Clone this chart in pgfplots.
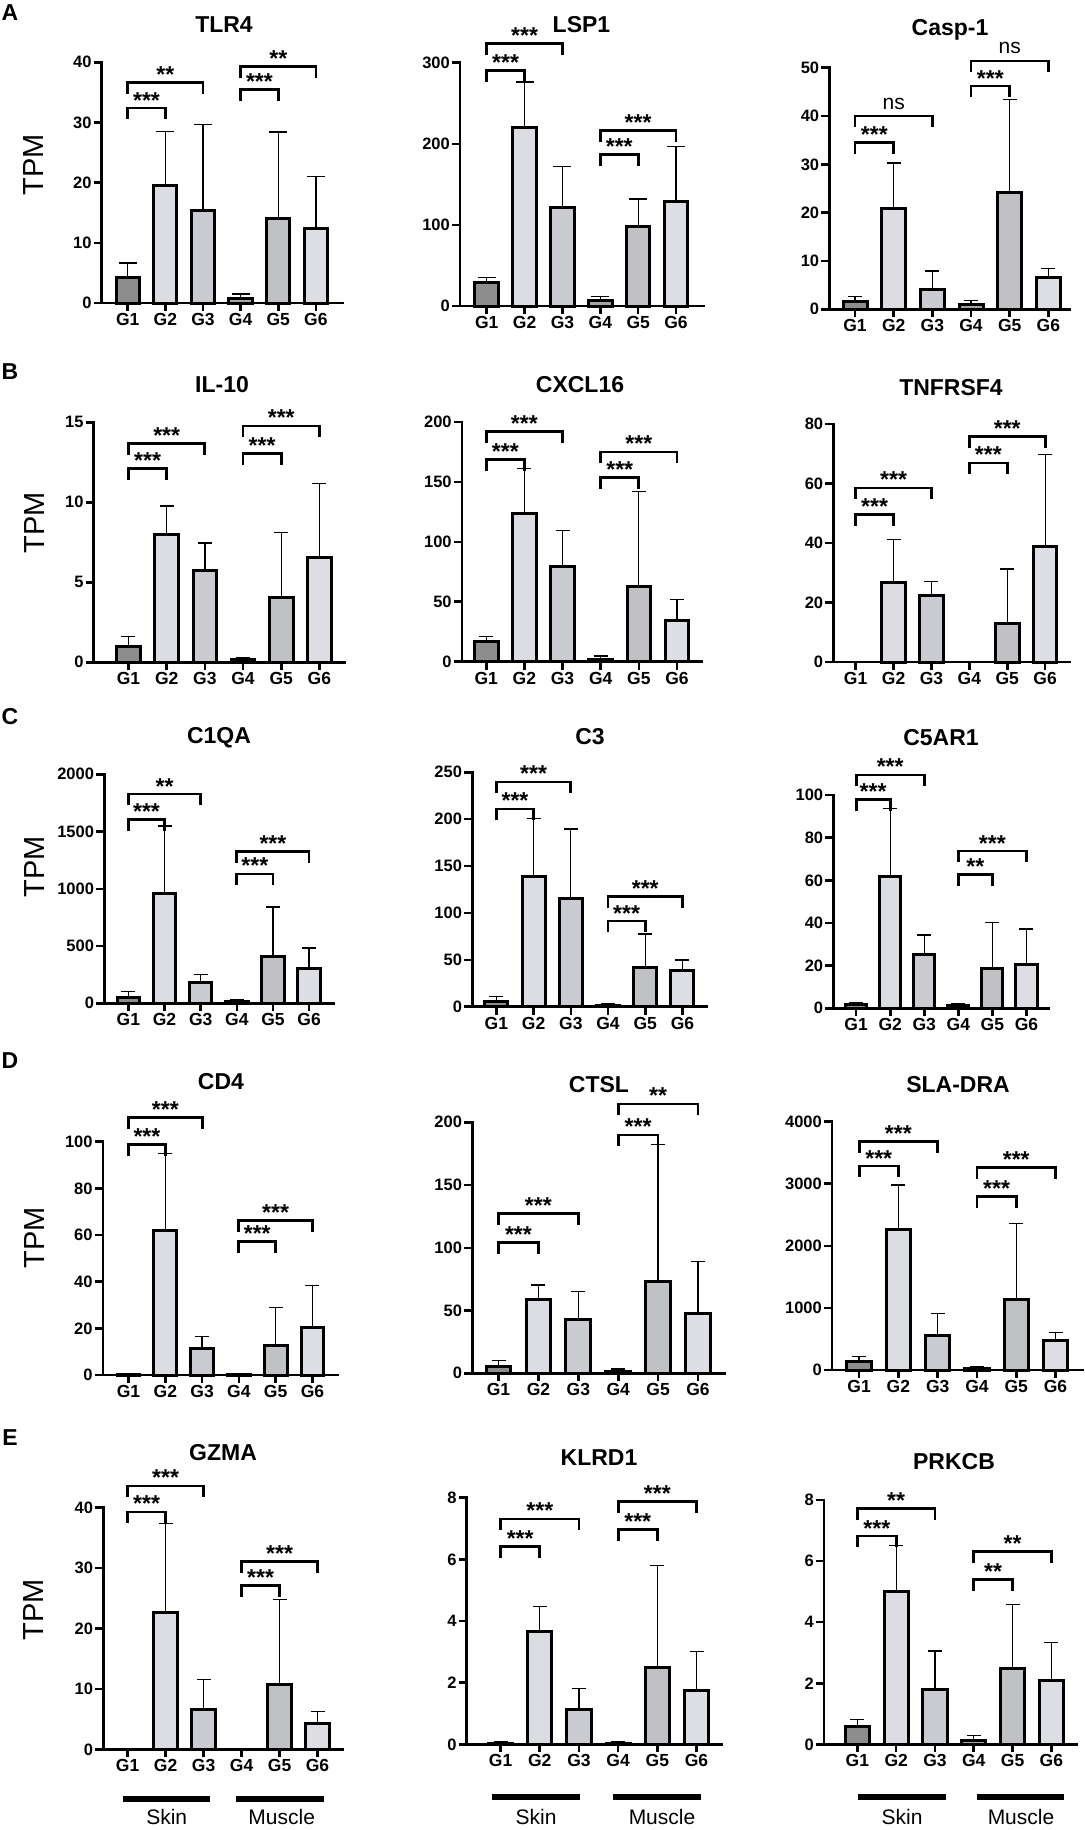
\documentclass[border=0pt]{standalone}
\usepackage{fontspec}
\setmainfont{Liberation Sans}
\newfontfamily\plainfont{Liberation Sans}
\usepackage{pgfplots}
\pgfplotsset{compat=1.18}
\definecolor{g1}{HTML}{8D8D8D}
\definecolor{g2}{HTML}{DBDDE2}
\definecolor{g3}{HTML}{C9CBD0}
\definecolor{g4}{HTML}{A5A5A5}
\definecolor{g5}{HTML}{BFC1C5}
\definecolor{g6}{HTML}{DCDEE3}
\pgfplotsset{bp/.style={
  scale only axis, anchor=south west,
  axis lines=left, axis line style={-, line width=2.6pt, line cap=rect},
  ymin=0, enlargelimits=false, clip=false,
  xtick={1,2,3,4,5,6}, xticklabels={G1,G2,G3,G4,G5,G6},
  tick align=outside, major tick length=8pt,
  tick style={black, line width=2.6pt},
  ybar, bar width=0.62, bar shift=0pt,
  /pgf/number format/assume math mode=true,
  /pgf/number format/1000 sep={},
  yticklabel style={font=\fontsize{16.5}{16.5}\selectfont\bfseries, inner sep=2pt},
  xticklabel style={font=\fontsize{17.5}{17.5}\selectfont\bfseries, inner sep=2pt},
  error bars/y dir=plus, error bars/y explicit,
  error bars/error bar style={line width=1.3pt, black},
  error bars/error mark options={rotate=90, mark size=7pt, line width=1.3pt, black},
},
capA/.style={error bars/error mark options={rotate=90, mark size=9pt, line width=1.3pt, black}}}
\tikzset{
  brk/.style={line width=2.8pt, line cap=rect, line join=miter},
  stars/.style={anchor=base, yshift=0pt, inner sep=0pt, font=\fontsize{23}{23}\selectfont\bfseries},
  nsl/.style={anchor=base, yshift=7pt, inner sep=0pt, font=\fontsize{21}{21}\selectfont},
  ttl/.style={font=\fontsize{23}{23}\selectfont\bfseries, inner sep=0pt},
  lett/.style={font=\fontsize{23}{23}\selectfont\bfseries, inner sep=0pt},
  tpm/.style={rotate=90, font=\plainfont\fontsize{29}{29}\selectfont, inner sep=0pt},
  grp/.style={font=\plainfont\fontsize{21}{21}\selectfont, inner sep=0pt},
}
% one bar: group index, mean, upper error length
\newcommand\B[3]{\addplot[draw=black, line width=3pt, fill=g#1] coordinates {(#1,#2) +- (0,#3)};}
% bracket: x1, x2, label x, y, label
\newcommand\br[5]{%
  \draw[brk] ([yshift=-10pt]axis cs:#1,#4) -- (axis cs:#1,#4) -- (axis cs:#2,#4) -- ([yshift=-10pt]axis cs:#2,#4);
  \node[stars] at (axis cs:#3,#4) {#5};}
\newcommand\brns[4]{%
  \draw[brk] ([yshift=-10pt]axis cs:#1,#4) -- (axis cs:#1,#4) -- (axis cs:#2,#4) -- ([yshift=-10pt]axis cs:#2,#4);
  \node[nsl] at (axis cs:#3,#4) {ns};}
\begin{document}
\begin{tikzpicture}
\useasboundingbox (0pt,0pt) rectangle (1084pt,-1830pt);
% panel letters, titles, TPM labels
\node[lett] at (10pt,-12.5pt) {A};
\node[lett] at (10pt,-372pt) {B};
\node[lett] at (10pt,-717pt) {C};
\node[lett] at (10pt,-1061pt) {D};
\node[lett] at (10pt,-1438pt) {E};
\node[tpm] at (34pt,-165pt) {TPM};
\node[tpm] at (35pt,-523pt) {TPM};
\node[tpm] at (35pt,-867pt) {TPM};
\node[tpm] at (35pt,-1238pt) {TPM};
\node[tpm] at (34pt,-1610pt) {TPM};
\node[ttl] at (224pt,-25pt) {TLR4};
\node[ttl] at (581.5pt,-25pt) {LSP1};
\node[ttl] at (950pt,-30pt) {Casp-1};
\node[ttl] at (222pt,-385pt) {IL-10};
\node[ttl] at (580pt,-385pt) {CXCL16};
\node[ttl] at (951pt,-388pt) {TNFRSF4};
\node[ttl] at (219pt,-738pt) {C1QA};
\node[ttl] at (590pt,-737pt) {C3};
\node[ttl] at (941pt,-738pt) {C5AR1};
\node[ttl] at (221pt,-1082pt) {CD4};
\node[ttl] at (599pt,-1085pt) {CTSL};
\node[ttl] at (958pt,-1085pt) {SLA-DRA};
\node[ttl] at (223pt,-1453pt) {GZMA};
\node[ttl] at (599pt,-1458pt) {KLRD1};
\node[ttl] at (954pt,-1462pt) {PRKCB};
% Skin / Muscle group bars
\draw[line width=6pt] (122.7pt,-1799pt) -- (210pt,-1799pt);
\draw[line width=6pt] (236pt,-1799pt) -- (324pt,-1799pt);
\draw[line width=6pt] (492pt,-1797pt) -- (580.4pt,-1797pt);
\draw[line width=6pt] (613pt,-1797pt) -- (701pt,-1797pt);
\draw[line width=6pt] (857.5pt,-1797pt) -- (946pt,-1797pt);
\draw[line width=6pt] (977pt,-1797pt) -- (1064pt,-1797pt);
\node[grp] at (166.7pt,-1817pt) {Skin};
\node[grp] at (281.7pt,-1817pt) {Muscle};
\node[grp] at (536pt,-1817pt) {Skin};
\node[grp] at (662pt,-1817pt) {Muscle};
\node[grp] at (902pt,-1817pt) {Skin};
\node[grp] at (1021pt,-1817pt) {Muscle};

% ---------- Row A ----------
\begin{axis}[bp, capA, at={(101.7pt,-303pt)}, width=241.3pt, height=240.7pt, xmin=0.31, xmax=6.72, ymax=40, ytick={0,10,20,30,40}]
\B{1}{4.26}{2.38}\B{2}{19.6}{8.9}\B{3}{15.3}{14.4}\B{4}{0.72}{0.78}\B{5}{14.0}{14.4}\B{6}{12.3}{8.7}
\br{1}{2}{1.5}{32.4}{***}\br{1}{3}{2}{36.6}{**}\br{4}{5}{4.5}{35.5}{***}\br{4}{6}{5}{39.3}{**}
\end{axis}
\begin{axis}[bp, capA, at={(460pt,-306pt)}, width=243.3pt, height=243.3pt, xmin=0.295, xmax=6.72, ymax=300, ytick={0,100,200,300}]
\B{1}{29.2}{5.7}\B{2}{220.3}{55.9}\B{3}{121.7}{50.1}\B{4}{7.4}{4.1}\B{5}{98.6}{33.3}\B{6}{129.1}{67.4}
\br{1}{2}{1.5}{290.2}{***}\br{1}{3}{2}{323.9}{***}\br{4}{5}{4.5}{187}{***}\br{4}{6}{5}{216.2}{***}
\end{axis}
\begin{axis}[bp, at={(829.3pt,-309.3pt)}, width=240.7pt, height=241.6pt, xmin=0.335, xmax=6.56, ymax=50, ytick={0,10,20,30,40,50}]
\B{1}{1.66}{0.94}\B{2}{20.9}{9.4}\B{3}{4.0}{3.9}\B{4}{0.97}{0.83}\B{5}{24.1}{19.3}\B{6}{6.55}{1.85}
\br{1}{2}{1.5}{34.5}{***}\brns{1}{3}{2}{40.0}\br{4}{5}{4.5}{46.2}{***}\brns{4}{6}{5}{51.4}
\end{axis}
% ---------- Row B ----------
\begin{axis}[bp, at={(93.75pt,-662.3pt)}, width=251.25pt, height=240pt, xmin=0.09, xmax=6.67, ymax=15, ytick={0,5,10,15}]
\B{1}{0.98}{0.62}\B{2}{8.0}{1.77}\B{3}{5.73}{1.73}\B{4}{0.19}{0.10}\B{5}{4.06}{4.04}\B{6}{6.56}{4.63}
\br{1}{2}{1.5}{12.1}{***}\br{1}{3}{2}{13.7}{***}\br{4}{5}{4.5}{13.06}{***}\br{4}{6}{5}{14.77}{***}
\end{axis}
\begin{axis}[bp, at={(461.8pt,-661.7pt)}, width=239.6pt, height=239.7pt, xmin=0.36, xmax=6.64, ymax=200, ytick={0,50,100,150,200}]
\B{1}{16.7}{4.2}\B{2}{124}{37}\B{3}{79.4}{29.8}\B{4}{2.2}{2.5}\B{5}{62.7}{79.3}\B{6}{34}{18}
\br{1}{2}{1.5}{169}{***}\br{1}{3}{2}{192}{***}\br{4}{5}{4.5}{154}{***}\br{4}{6}{5}{175}{***}
\end{axis}
\begin{axis}[bp, at={(833.3pt,-662pt)}, width=236.1pt, height=238pt, xmin=0.41, xmax=6.64, ymax=80, ytick={0,20,40,60,80}]
\B{2}{26.6}{14.5}\B{3}{22.3}{4.8}\B{5}{12.8}{18.5}\B{6}{38.7}{31.0}
\br{1}{2}{1.5}{49.7}{***}\br{1}{3}{2}{58.5}{***}\br{4}{5}{4.5}{66.9}{***}\br{4}{6}{5}{75.9}{***}
\end{axis}
% ---------- Row C ----------
\begin{axis}[bp, at={(104.2pt,-1003.3pt)}, width=229.1pt, height=229pt, xmin=0.33, xmax=6.67, ymax=2000, ytick={0,500,1000,1500,2000}]
\B{1}{49}{53}\B{2}{961}{588}\B{3}{186}{67}\B{4}{20}{9}\B{5}{408}{433}\B{6}{306}{177}
\br{1}{2}{1.5}{1607}{***}\br{1}{3}{2}{1828}{**}\br{4}{5}{4.5}{1130}{***}\br{4}{6}{5}{1328}{***}
\end{axis}
\begin{axis}[bp, at={(472.2pt,-1006.7pt)}, width=234.8pt, height=234.4pt, xmin=0.35, xmax=6.66, ymax=250, ytick={0,50,100,150,200,250}]
\B{1}{6}{4.7}\B{2}{138.7}{61.9}\B{3}{114.9}{74.6}\B{4}{1}{1.8}\B{5}{42.3}{35.2}\B{6}{38.8}{11}
\br{1}{2}{1.5}{210.9}{***}\br{1}{3}{2}{239.7}{***}\br{4}{5}{4.5}{91.4}{***}\br{4}{6}{5}{117.7}{***}
\end{axis}
\begin{axis}[bp, at={(833.3pt,-1008.3pt)}, width=215.3pt, height=213.3pt, xmin=0.33, xmax=6.65, ymax=100, ytick={0,20,40,60,80,100}]
\B{1}{2.0}{0.7}\B{2}{62}{31.75}\B{3}{25.3}{9.1}\B{4}{1.1}{1.1}\B{5}{18.6}{21.7}\B{6}{20.6}{16.6}
\br{1}{2}{1.5}{98}{***}\br{1}{3}{2}{109.4}{***}\br{4}{5}{4.5}{62.8}{**}\br{4}{6}{5}{73.75}{***}
\end{axis}
% ---------- Row D ----------
\begin{axis}[bp, at={(102.8pt,-1375pt)}, width=235.4pt, height=233.3pt, xmin=0.30, xmax=6.70, ymax=100, ytick={0,20,40,60,80,100}]
\B{1}{0.3}{0.2}\B{2}{61.9}{33.1}\B{3}{11.3}{5.1}\B{4}{0.2}{0.2}\B{5}{12.7}{16.3}\B{6}{20.4}{17.9}
\br{1}{2}{1.5}{98.9}{***}\br{1}{3}{2}{110.3}{***}\br{4}{5}{4.5}{57.1}{***}\br{4}{6}{5}{66.4}{***}
\end{axis}
\begin{axis}[bp, at={(472.2pt,-1373.3pt)}, width=252.1pt, height=251pt, xmin=0.34, xmax=6.66, ymax=200, ytick={0,50,100,150,200}]
\B{1}{5.8}{4.3}\B{2}{59}{11.4}\B{3}{42.5}{22.6}\B{4}{1.6}{1.9}\B{5}{73}{109.5}\B{6}{47.8}{41.2}
\br{1}{2}{1.5}{104.4}{***}\br{1}{3}{2}{127.5}{***}\br{4}{5}{4.5}{189.9}{***}\br{4}{6}{5}{214.6}{**}
\end{axis}
\begin{axis}[bp, at={(832pt,-1370pt)}, width=251pt, height=248.3pt, xmin=0.31, xmax=6.70, ymax=4000, ytick={0,1000,2000,3000,4000}]
\B{1}{134}{81}\B{2}{2271}{709}\B{3}{558}{355}\B{4}{32}{22}\B{5}{1138}{1224}\B{6}{472}{129}
\br{1}{2}{1.5}{3286}{***}\br{1}{3}{2}{3683}{***}\br{4}{5}{4.5}{2792}{***}\br{4}{6}{5}{3259}{***}
\end{axis}
% ---------- Row E ----------
\begin{axis}[bp, at={(103.3pt,-1749.3pt)}, width=239.7pt, height=241.6pt, xmin=0.36, xmax=6.67, ymax=40, ytick={0,10,20,30,40}]
\B{2}{22.7}{14.7}\B{3}{6.6}{5.0}\B{5}{10.65}{14.15}\B{6}{4.3}{2.0}
\br{1}{2}{1.5}{39.3}{***}\br{1}{3}{2}{43.6}{***}\br{4}{5}{4.5}{27.1}{***}\br{4}{6}{5}{31.1}{***}
\end{axis}
\begin{axis}[bp, at={(466.7pt,-1744.3pt)}, width=255.3pt, height=246.6pt, xmin=0.135, xmax=6.65, ymax=8, ytick={0,2,4,6,8}]
\B{1}{0.03}{0.06}\B{2}{3.65}{0.81}\B{3}{1.14}{0.66}\B{4}{0.03}{0.05}\B{5}{2.5}{3.3}\B{6}{1.74}{1.26}
\br{1}{2}{1.5}{6.41}{***}\br{1}{3}{2}{7.31}{***}\br{4}{5}{4.5}{6.97}{***}\br{4}{6}{5}{7.87}{***}
\end{axis}
\begin{axis}[bp, at={(824pt,-1744.3pt)}, width=253pt, height=244.3pt, xmin=0.14, xmax=6.66, ymax=8, ytick={0,2,4,6,8}]
\B{1}{0.58}{0.24}\B{2}{5.02}{1.48}\B{3}{1.78}{1.28}\B{4}{0.14}{0.16}\B{5}{2.47}{2.12}\B{6}{2.09}{1.24}
\br{1}{2}{1.5}{6.82}{***}\br{1}{3}{2}{7.71}{**}\br{4}{5}{4.5}{5.4}{**}\br{4}{6}{5}{6.31}{**}
\end{axis}
\end{tikzpicture}
\end{document}
